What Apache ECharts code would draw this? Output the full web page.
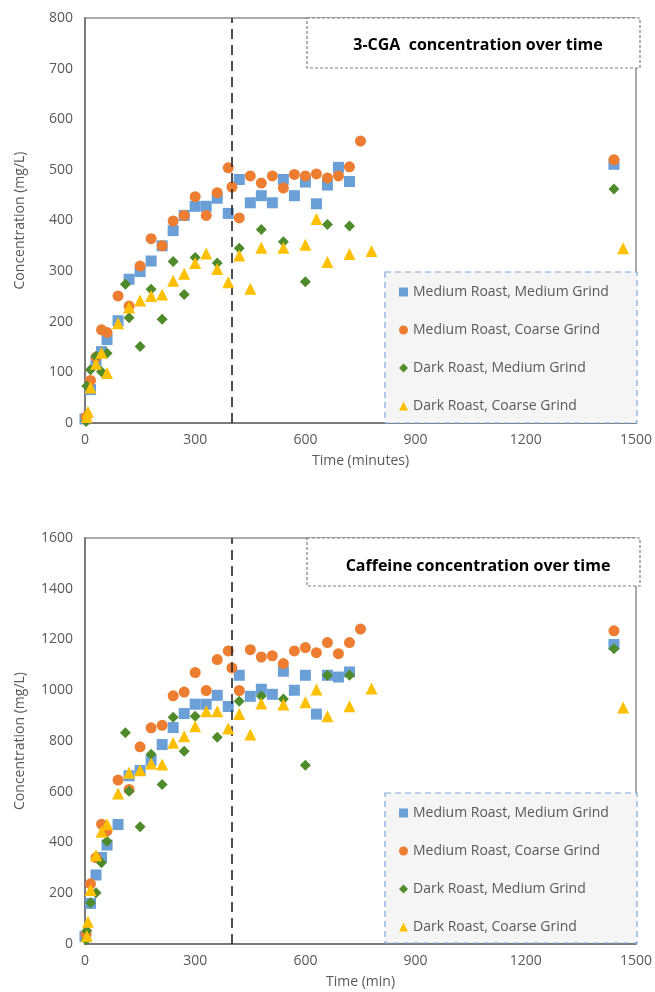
<!DOCTYPE html>
<html>
<head>
<meta charset="utf-8">
<script src="https://cdn.jsdelivr.net/npm/echarts@6/dist/echarts.min.js"></script>
<style>
html,body{margin:0;padding:0;background:#fff;}
#chart{width:655px;height:992px;}
</style>
</head>
<body>
<div id="chart"></div>
<script>
// ---- Data ----
const seriesNames = ['Medium Roast, Medium Grind','Medium Roast, Coarse Grind','Dark Roast, Medium Grind','Dark Roast, Coarse Grind'];
const chartTitles = ['3-CGA  concentration over time','Caffeine concentration over time'];
const xAxisNames = ['Time (minutes)','Time (min)'];
const yAxisName = 'Concentration (mg/L)';
const brewStartLine = 400;

// 3-CGA
const cgaMRMG_t = [0,15,30,45,60,90,120,150,180,210,240,270,300,330,360,390,420,450,480,510,540,570,600,630,660,690,720,1440];
const cgaMRMG_v = [8,66,120,141,165,202,284,299,320,350,380,410,428,428,444,414,481,435,449,435,481,449,476,433,470,505,477,511];
const cgaMRCG_t = [3,15,30,45,60,90,120,150,180,210,240,270,300,330,360,390,400,420,450,480,510,540,570,600,630,660,690,720,750,1440];
const cgaMRCG_v = [12,84,130,184,179,251,231,310,364,350,399,410,447,410,455,504,466,405,488,474,488,464,491,488,492,484,488,506,557,520];
const cgaDRMG_t = [3,5,15,30,45,60,110,120,150,180,210,240,270,300,360,420,480,540,600,660,720,1440];
const cgaDRMG_v = [3,73,105,132,101,138,274,208,151,264,205,319,254,327,316,345,382,358,279,392,389,462];
const cgaDRCG_t = [5,8,15,30,45,60,90,120,150,180,210,240,270,300,330,360,390,420,450,480,540,600,630,660,720,780,1465];
const cgaDRCG_v = [12,22,70,117,139,99,197,228,242,251,254,281,295,316,335,304,278,331,265,346,346,352,403,318,334,340,345];

// Caffeine
const cafMRMG_t = [0,15,30,45,60,90,120,150,180,210,240,270,300,330,360,390,420,450,480,510,540,570,600,630,660,690,720,1440];
const cafMRMG_v = [30,160,272,341,390,471,663,684,724,786,853,908,945,945,980,936,1059,976,1004,984,1075,1000,1059,906,1059,1052,1072,1180];
const cafMRCG_t = [3,15,30,45,60,90,120,150,180,210,240,270,300,330,360,390,400,420,450,480,510,540,570,600,630,660,690,720,750,1440];
const cafMRCG_v = [38,237,340,472,446,646,609,777,852,862,978,993,1070,999,1121,1155,1088,999,1160,1131,1136,1105,1155,1168,1148,1188,1144,1188,1241,1234];
const cafDRMG_t = [3,5,15,30,45,60,110,120,150,180,210,240,270,300,360,420,480,540,600,660,720,1440];
const cafDRMG_v = [16,52,163,202,320,405,833,602,462,748,629,894,760,898,815,957,977,966,704,1059,1059,1164];
const cafDRCG_t = [5,8,15,30,45,60,90,120,150,180,210,240,270,300,330,360,390,420,450,480,540,600,630,660,720,780,1465];
const cafDRCG_v = [32,88,213,350,442,472,593,675,685,711,707,793,819,858,917,917,849,906,826,948,944,953,1003,898,937,1007,932];

const xTicks = {min:0, max:1500, interval:300};
const yTop = {min:0, max:800, interval:100};
const yBottom = {min:0, max:1600, interval:200};

// ---- Styling ----
const colors = ['#6a9fd8','#ed7d31','#4f8a2b','#ffc000'];
const symbols = ['rect','circle','diamond','triangle'];
const sizes = [11,11,11,12];
const FONT = '"Open Sans", sans-serif';
const zip = (t,v)=>t.map((x,i)=>[x,v[i]]);

const topData = [zip(cgaMRMG_t,cgaMRMG_v),zip(cgaMRCG_t,cgaMRCG_v),zip(cgaDRMG_t,cgaDRMG_v),zip(cgaDRCG_t,cgaDRCG_v)];
const botData = [zip(cafMRMG_t,cafMRMG_v),zip(cafMRCG_t,cafMRCG_v),zip(cafDRMG_t,cafDRMG_v),zip(cafDRCG_t,cafDRCG_v)];

function makeSeries(dataSets, idx){
  return dataSets.map((d,i)=>{
    const s = {
      name: seriesNames[i], type:'scatter', xAxisIndex: idx, yAxisIndex: idx,
      symbol: symbols[i], symbolSize: sizes[i], data: d,
      itemStyle:{color: colors[i], opacity:1}, z: 3+i
    };
    if(i===0){
      s.markLine = {silent:true, symbol:'none', label:{show:false},
        lineStyle:{color:'#262626', width:1.6, type:[10,6]},
        data:[{xAxis: brewStartLine}]};
    }
    return s;
  });
}

const plain = v => String(v);
const axisLabel = {color:'#595959', fontSize:14, fontFamily:FONT, formatter:plain};
function xAxis(idx){
  return {type:'value', gridIndex:idx, min:xTicks.min, max:xTicks.max, interval:xTicks.interval,
    name:xAxisNames[idx], nameLocation:'middle', nameGap:31,
    nameTextStyle:{color:'#595959', fontSize:14, fontFamily:FONT},
    axisLine:{show:true, lineStyle:{color:'#7a7a7a', width:2}}, axisTick:{show:false},
    splitLine:{show:false}, axisLabel:Object.assign({margin:10}, axisLabel)};
}
function yAxis(idx, r){
  return {type:'value', gridIndex:idx, min:r.min, max:r.max, interval:r.interval,
    name:yAxisName, nameLocation:'middle', nameGap:58,
    nameTextStyle:{color:'#595959', fontSize:14, fontFamily:FONT},
    axisLine:{show:true, lineStyle:{color:'#7a7a7a', width:2}}, axisTick:{show:false},
    splitLine:{show:false}, axisLabel:Object.assign({margin:12}, axisLabel)};
}
function legend(top){
  return {data:seriesNames, orient:'vertical', left:399, top:top, itemGap:22,
    itemWidth:9, itemHeight:9, padding:0, selectedMode:false,
    textStyle:{color:'#595959', fontSize:14, fontFamily:FONT, lineHeight:16}};
}
function dashedBox(x,y,w,h,stroke,fill,dash){
  return {type:'rect', shape:{x:x,y:y,width:w,height:h}, z:2,
    style:{fill:fill, stroke:stroke, lineWidth:1.2, lineDash:dash}};
}

const chart = echarts.init(document.getElementById('chart'), null, {renderer:'canvas'});
chart.setOption({
  animation:false,
  backgroundColor:'#ffffff',
  textStyle:{fontFamily:FONT},
  grid:[
    {left:85, right:15, top:18, height:405, show:true, borderColor:'#595959', borderWidth:1},
    {left:85, right:15, top:538, height:406, show:true, borderColor:'#595959', borderWidth:1}
  ],
  xAxis:[xAxis(0), xAxis(1)],
  yAxis:[yAxis(0,yTop), yAxis(1,yBottom)],
  title:[
    {text:chartTitles[0], left:473, top:32, textAlign:'center', z:10,
      textStyle:{fontSize:16, fontWeight:'bold', color:'#000', fontFamily:FONT}},
    {text:chartTitles[1], left:473, top:553, textAlign:'center', z:10,
      textStyle:{fontSize:16, fontWeight:'bold', color:'#000', fontFamily:FONT}}
  ],
  legend:[legend(284), legend(805)],
  graphic:[
    dashedBox(307,18,333,50,'#7f7f7f','#ffffff',[3,2]),
    dashedBox(307,538,333,48,'#7f7f7f','#ffffff',[3,2]),
    dashedBox(385,272,252,151,'#7ea7d8','#f5f5f5',[6,4]),
    dashedBox(385,793,252,150,'#7ea7d8','#f5f5f5',[6,4])
  ],
  series: makeSeries(topData,0).concat(makeSeries(botData,1))
});
</script>
</body>
</html>
